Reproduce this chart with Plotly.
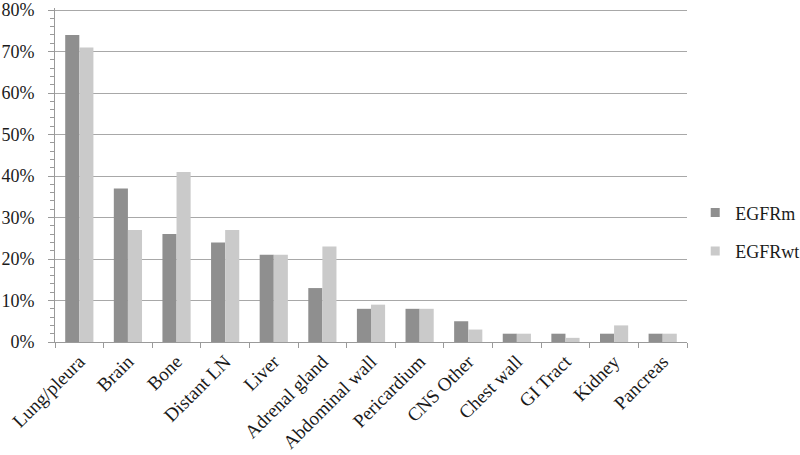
import plotly.graph_objects as go

sites = ['Lung/pleura', 'Brain', 'Bone', 'Distant LN', 'Liver', 'Adrenal gland',
         'Abdominal wall', 'Pericardium', 'CNS Other', 'Chest wall', 'GI Tract',
         'Kidney', 'Pancreas']
egfr_m = [0.74, 0.37, 0.26, 0.24, 0.21, 0.13, 0.08, 0.08, 0.05, 0.02, 0.02, 0.02, 0.02]
egfr_wt = [0.71, 0.27, 0.41, 0.27, 0.21, 0.23, 0.09, 0.08, 0.03, 0.02, 0.01, 0.04, 0.02]

FONT = 'Liberation Serif'
DARK = '#8f8f8f'
LIGHT = '#cacaca'

fig = go.Figure()
fig.add_trace(go.Bar(x=sites, y=egfr_m, name='EGFRm', showlegend=False,
                     marker=dict(color=DARK, line=dict(width=0))))
fig.add_trace(go.Bar(x=sites, y=egfr_wt, name='EGFRwt', showlegend=False,
                     marker=dict(color=LIGHT, line=dict(width=0))))

# small square legend keys, like the Excel original
for name, col, grp in [('EGFRm', DARK, 'm'), ('EGFRwt', LIGHT, 'wt')]:
    fig.add_trace(go.Scatter(x=[None], y=[None], mode='markers', name=name, legendgroup=grp,
                             marker=dict(symbol='square', size=9, color=col)))

fig.update_layout(
    width=800, height=455,
    margin=dict(l=55, r=113, t=8, b=113, autoexpand=False),
    plot_bgcolor='white', paper_bgcolor='white',
    barmode='group', bargap=0.42, bargroupgap=0,
    font=dict(family=FONT, color='#1a1a1a'),
    legend=dict(x=1.013, y=0.33, yanchor='middle', xanchor='left', font=dict(size=18),
                itemwidth=30, tracegroupgap=12),
    xaxis=dict(
        type='category', tickangle=-45, tickfont=dict(size=19), automargin=False,
        showline=True, linecolor='#9a9a9a', linewidth=1,
        ticks='outside', ticklen=5, tickcolor='#9a9a9a', tickson='boundaries',
        showgrid=False,
    ),
    yaxis=dict(
        range=[0, 0.805], dtick=0.1, tickformat='.0%', tickfont=dict(size=18), automargin=False,
        ticklabeloverflow='allow',
        showline=True, linecolor='#9a9a9a', linewidth=1,
        ticks='outside', ticklen=6, tickcolor='#9a9a9a', ticklabelstandoff=10,
        gridcolor='#a8a8a8', gridwidth=1,
        minor=dict(dtick=0.02, ticks='outside', ticklen=4, tickcolor='#9a9a9a', showgrid=False),
        zeroline=False,
    ),
)

fig.write_html('out.html', config={'displayModeBar': False},
               post_script="document.body.style.margin='0';")
